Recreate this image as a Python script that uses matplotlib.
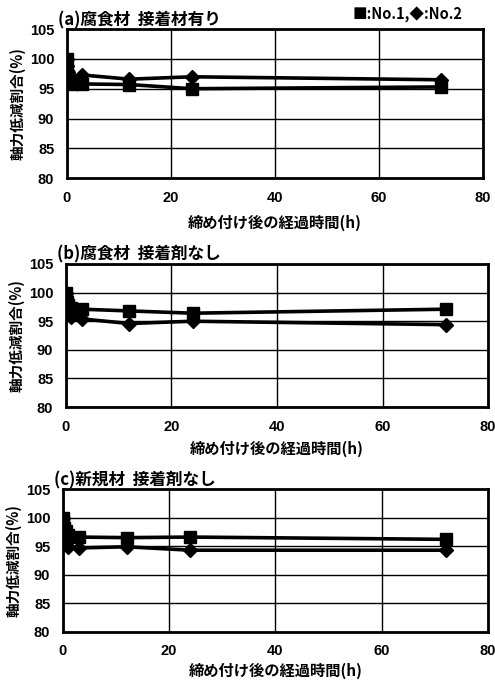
import matplotlib
matplotlib.use("Agg")
import matplotlib.pyplot as plt

plt.rcParams['font.family'] = ['Noto Sans CJK JP', 'DejaVu Sans']
plt.rcParams['font.weight'] = 'bold'

# elapsed time after tightening (h)
hours = [0, 0.1, 0.25, 0.5, 1, 3, 12, 24, 72]

titles = ["(a)腐食材  接着材有り", "(b)腐食材  接着剤なし", "(c)新規材  接着剤なし"]

# No.1 (square) / No.2 (diamond), axial force retention (%)
a_no1 = [100, 98.2, 97.2, 96.3, 95.8, 95.8, 95.7, 95.0, 95.3]
a_no2 = [100, 98.8, 97.8, 97.2, 96.8, 97.3, 96.6, 97.0, 96.5]
b_no1 = [100, 99.0, 98.3, 97.8, 97.3, 97.1, 96.8, 96.4, 97.1]
b_no2 = [100, 98.0, 97.0, 96.2, 95.7, 95.4, 94.6, 95.0, 94.4]
c_no1 = [100, 99.0, 98.2, 97.6, 97.0, 96.6, 96.5, 96.6, 96.2]
c_no2 = [100, 97.5, 96.2, 95.5, 94.8, 94.7, 94.9, 94.3, 94.3]

series = [(a_no1, a_no2), (b_no1, b_no2), (c_no1, c_no2)]

xticks = [0, 20, 40, 60, 80]
yticks = [80, 85, 90, 95, 100, 105]

num_font = ['Liberation Sans', 'DejaVu Sans']

fig = plt.figure(figsize=(4.95, 6.83), dpi=100)
positions = [
    [0.135, 0.739, 0.841, 0.2185],
    [0.133, 0.404, 0.853, 0.2095],
    [0.127, 0.0747, 0.859, 0.2093],
]
label_pads = [7, 5, 3]

for pos, title, (s1, s2), lp in zip(positions, titles, series, label_pads):
    ax = fig.add_axes(pos)
    ax.plot(hours, s1, color='black', lw=2.6, marker='s', ms=8, zorder=3)
    ax.plot(hours, s2, color='black', lw=2.6, marker='D', ms=7, zorder=3)
    ax.set_xlim(0, 80)
    ax.set_ylim(80, 105)
    ax.set_xticks(xticks)
    ax.set_yticks(yticks)
    ax.grid(True, color='black', lw=1.0)
    ax.tick_params(length=0, pad=9)
    for lab in ax.get_xticklabels() + ax.get_yticklabels():
        lab.set_fontweight('bold')
        lab.set_family(num_font)
        lab.set_fontsize(10.5)
    for sp in ax.spines.values():
        sp.set_linewidth(2)
    ax.set_xlabel("締め付け後の経過時間(h)", fontsize=11, fontweight='bold', labelpad=lp)
    ax.set_ylabel("軸力低減割合(%)", fontsize=10.5, fontweight='bold', labelpad=3)
    ax.text(-0.02, 1.0, title, transform=ax.transAxes, fontsize=12,
            fontweight='bold', ha='left', va='bottom')

fig.text(0.712, 0.978, "■:No.1,◆:No.2", fontsize=10.5, fontweight='bold',
         ha='left', va='center')

fig.savefig("out.png", dpi=100)
